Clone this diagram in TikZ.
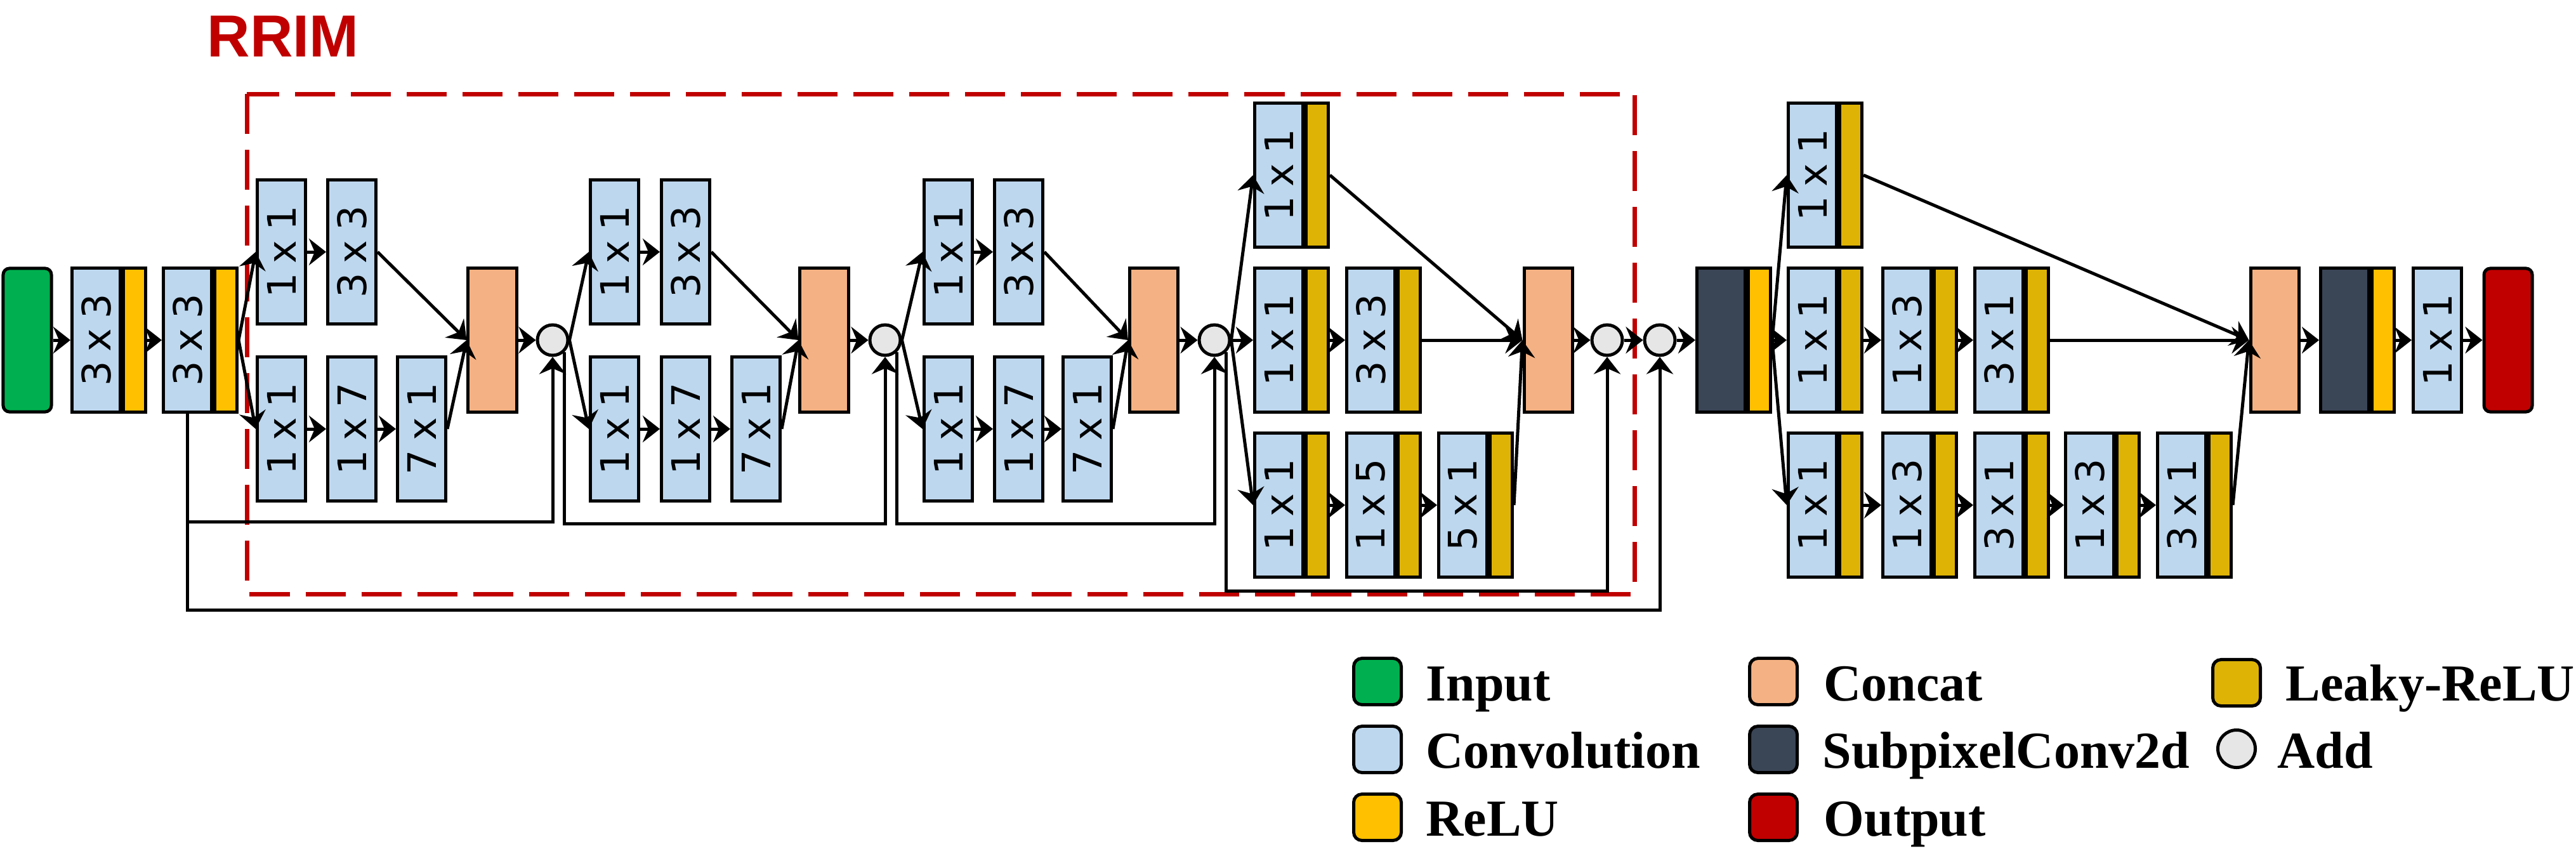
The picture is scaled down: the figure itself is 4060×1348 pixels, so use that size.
\documentclass[tikz,border=0pt]{standalone}
\usepackage{fontspec}
\usepackage{graphicx}
\usetikzlibrary{arrows.meta,calc}
\newfontfamily\boxfont{DejaVu Sans}
\newfontfamily\legfont{Liberation Serif}
\newfontfamily\rrimfont{Liberation Sans}
\definecolor{inc}{HTML}{00B050}
\definecolor{convc}{HTML}{BDD7EE}
\definecolor{reluc}{HTML}{FFC000}
\definecolor{lreluc}{HTML}{DEB306}
\definecolor{catc}{HTML}{F4B183}
\definecolor{spc}{HTML}{3A4556}
\definecolor{outc}{HTML}{C00000}
\definecolor{addc}{HTML}{E6E6E6}
\definecolor{rrimc}{HTML}{C00000}
\newcommand\kt[1]{{\boxfont\fontsize{17.6}{20}\selectfont\spaceskip=0.24em\relax\rotatebox{90}{#1}}}
\begin{document}
\begin{tikzpicture}[x=0.01cm,y=-0.01cm,
 bx/.style={draw=black, line width=0.05cm, inner sep=0pt, minimum width=0.76cm, minimum height=2.26cm},
 conv/.style={bx, fill=convc},
 relu/.style={bx, fill=reluc, minimum width=0.35cm, anchor=west},
 lrelu/.style={bx, fill=lreluc, minimum width=0.35cm, anchor=west},
 cat/.style={bx, fill=catc},
 spx/.style={bx, fill=spc},
 io/.style={bx, rounded corners=0.1cm},
 add/.style={circle, draw=black, line width=0.05cm, fill=addc, minimum size=0.48cm, inner sep=0pt},
 arr/.style={line width=0.05cm, -{Stealth[length=0.27cm,width=0.42cm,inset=0.09cm]}},
 leg/.style={anchor=base west, inner sep=0pt, font=\legfont\bfseries\fontsize{23.3}{26}\selectfont},
 sw/.style={draw=black, line width=0.05cm, rounded corners=0.13cm, minimum width=0.75cm, minimum height=0.73cm, inner sep=0pt},
]
\useasboundingbox (0,0) rectangle (4060,1348);

% RRIM frame
\draw[rrimc, line width=0.07cm, dash pattern=on 0.63cm off 0.25cm] (389,148) rectangle (2576,936);
\node[anchor=base, inner sep=0pt, text=rrimc, font=\rrimfont\bfseries\fontsize{26.6}{30}\selectfont] (rrim) at (446,89) {RRIM};

% main stem
\node[io, fill=inc] (in) at (43,536) {};
\node[conv] (A) at (151.5,536) {\kt{3 x 3}}; \node[relu] (Aa) at (A.east) {};
\node[conv] (B) at (295.5,536) {\kt{3 x 3}}; \node[relu] (Ba) at (B.east) {};

% group 1
\node[conv] (g1t1) at (443.5,397) {\kt{1 x 1}};
\node[conv] (g1t2) at (554.5,397) {\kt{3 x 3}};
\node[conv] (g1b1) at (443.5,676) {\kt{1 x 1}};
\node[conv] (g1b2) at (554.5,676) {\kt{1 x 7}};
\node[conv] (g1b3) at (664.5,676) {\kt{7 x 1}};
\node[cat] (c1) at (776,536) {};
\node[add] (p1) at (871,536) {};

% group 2
\node[conv] (g2t1) at (968.5,397) {\kt{1 x 1}};
\node[conv] (g2t2) at (1080.5,397) {\kt{3 x 3}};
\node[conv] (g2b1) at (968.5,676) {\kt{1 x 1}};
\node[conv] (g2b2) at (1080.5,676) {\kt{1 x 7}};
\node[conv] (g2b3) at (1191.5,676) {\kt{7 x 1}};
\node[cat] (c2) at (1299,536) {};
\node[add] (p2) at (1395,536) {};

% group 3
\node[conv] (g3t1) at (1494.5,397) {\kt{1 x 1}};
\node[conv] (g3t2) at (1605.5,397) {\kt{3 x 3}};
\node[conv] (g3b1) at (1494.5,676) {\kt{1 x 1}};
\node[conv] (g3b2) at (1605.5,676) {\kt{1 x 7}};
\node[conv] (g3b3) at (1713.5,676) {\kt{7 x 1}};
\node[cat] (c3) at (1818.5,536) {};
\node[add] (p3) at (1914,536) {};

% group 4
\node[conv] (g4t1) at (2015.5,276) {\kt{1 x 1}}; \node[lrelu] (g4t1a) at (g4t1.east) {};
\node[conv] (g4m1) at (2015.5,536) {\kt{1 x 1}}; \node[lrelu] (g4m1a) at (g4m1.east) {};
\node[conv] (g4m2) at (2160.5,536) {\kt{3 x 3}}; \node[lrelu] (g4m2a) at (g4m2.east) {};
\node[conv] (g4b1) at (2015.5,796) {\kt{1 x 1}}; \node[lrelu] (g4b1a) at (g4b1.east) {};
\node[conv] (g4b2) at (2160.5,796) {\kt{1 x 5}}; \node[lrelu] (g4b2a) at (g4b2.east) {};
\node[conv] (g4b3) at (2305.5,796) {\kt{5 x 1}}; \node[lrelu] (g4b3a) at (g4b3.east) {};
\node[cat] (c4) at (2440,536) {};
\node[add] (p4) at (2533,536) {};
\node[add] (p5) at (2616,536) {};

% upsampling
\node[spx] (sp1) at (2712.5,536) {}; \node[relu] (sp1a) at (sp1.east) {};

% right module
\node[conv] (rt1) at (2856.5,276) {\kt{1 x 1}}; \node[lrelu] (rt1a) at (rt1.east) {};
\node[conv] (rm1) at (2856.5,536) {\kt{1 x 1}}; \node[lrelu] (rm1a) at (rm1.east) {};
\node[conv] (rm2) at (3005.5,536) {\kt{1 x 3}}; \node[lrelu] (rm2a) at (rm2.east) {};
\node[conv] (rm3) at (3150.5,536) {\kt{3 x 1}}; \node[lrelu] (rm3a) at (rm3.east) {};
\node[conv] (rb1) at (2856.5,796) {\kt{1 x 1}}; \node[lrelu] (rb1a) at (rb1.east) {};
\node[conv] (rb2) at (3005.5,796) {\kt{1 x 3}}; \node[lrelu] (rb2a) at (rb2.east) {};
\node[conv] (rb3) at (3150.5,796) {\kt{3 x 1}}; \node[lrelu] (rb3a) at (rb3.east) {};
\node[conv] (rb4) at (3293.5,796) {\kt{1 x 3}}; \node[lrelu] (rb4a) at (rb4.east) {};
\node[conv] (rb5) at (3438.5,796) {\kt{3 x 1}}; \node[lrelu] (rb5a) at (rb5.east) {};
\node[cat] (c5) at (3585,536) {};
\node[spx] (sp2) at (3695.5,536) {}; \node[relu] (sp2a) at (sp2.east) {};
\node[conv] (f1) at (3841.5,536) {\kt{1 x 1}};
\node[io, fill=outc] (out) at (3953,536) {};

% arrows
\draw[arr] (in.east) -- (A.west);
\draw[arr] (Aa.east) -- (B.west);
\draw[arr] (Ba.east) -- (g1t1.west);
\draw[arr] (Ba.east) -- (g1b1.west);
\draw[arr] (g1t1.east) -- (g1t2.west);
\draw[arr] (g1t2.east) -- (c1.west);
\draw[arr] (g1b1.east) -- (g1b2.west);
\draw[arr] (g1b2.east) -- (g1b3.west);
\draw[arr] (g1b3.east) -- (c1.west);
\draw[arr] (c1.east) -- (p1.west);

\draw[arr] (p1.east) -- (g2t1.west);
\draw[arr] (p1.east) -- (g2b1.west);
\draw[arr] (g2t1.east) -- (g2t2.west);
\draw[arr] (g2t2.east) -- (c2.west);
\draw[arr] (g2b1.east) -- (g2b2.west);
\draw[arr] (g2b2.east) -- (g2b3.west);
\draw[arr] (g2b3.east) -- (c2.west);
\draw[arr] (c2.east) -- (p2.west);

\draw[arr] (p2.east) -- (g3t1.west);
\draw[arr] (p2.east) -- (g3b1.west);
\draw[arr] (g3t1.east) -- (g3t2.west);
\draw[arr] (g3t2.east) -- (c3.west);
\draw[arr] (g3b1.east) -- (g3b2.west);
\draw[arr] (g3b2.east) -- (g3b3.west);
\draw[arr] (g3b3.east) -- (c3.west);
\draw[arr] (c3.east) -- (p3.west);

\draw[arr] (p3.east) -- (g4t1.west);
\draw[arr] (p3.east) -- (g4m1.west);
\draw[arr] (p3.east) -- (g4b1.west);
\draw[arr] (g4t1a.east) -- (c4.west);
\draw[arr] (g4m1a.east) -- (g4m2.west);
\draw[arr] (g4m2a.east) -- (c4.west);
\draw[arr] (g4b1a.east) -- (g4b2.west);
\draw[arr] (g4b2a.east) -- (g4b3.west);
\draw[arr] (g4b3a.east) -- (c4.west);
\draw[arr] (c4.east) -- (p4.west);
\draw[arr] (p4.east) -- (p5.west);
\draw[arr] (p5.east) -- (sp1.west);

\draw[arr] (sp1a.east) -- (rt1.west);
\draw[arr] (sp1a.east) -- (rm1.west);
\draw[arr] (sp1a.east) -- (rb1.west);
\draw[arr] (rt1a.east) -- (c5.west);
\draw[arr] (rm1a.east) -- (rm2.west);
\draw[arr] (rm2a.east) -- (rm3.west);
\draw[arr] (rm3a.east) -- (c5.west);
\draw[arr] (rb1a.east) -- (rb2.west);
\draw[arr] (rb2a.east) -- (rb3.west);
\draw[arr] (rb3a.east) -- (rb4.west);
\draw[arr] (rb4a.east) -- (rb5.west);
\draw[arr] (rb5a.east) -- (c5.west);
\draw[arr] (c5.east) -- (sp2.west);
\draw[arr] (sp2a.east) -- (f1.west);
\draw[arr] (f1.east) -- (out.west);

% skip connections
\coordinate (yS1) at (0,822);
\coordinate (yS2) at (0,825);
\coordinate (yS4) at (0,931);
\coordinate (yS0) at (0,961);
\draw[arr] (B.south) |- (p1.south |- yS1) -- (p1.south);
\draw[arr] (B.south) |- (p5.south |- yS0) -- (p5.south);
\draw[arr] (p1.-45) |- (p2.south |- yS2) -- (p2.south);
\draw[arr] (p2.-45) |- (p3.south |- yS2) -- (p3.south);
\draw[arr] (p3.-45) |- (p4.south |- yS4) -- (p4.south);

% legend
\node[sw, fill=inc] (l1) at (2171,1074) {};
\node[leg] (l1t) at (2247,1104) {Input};
\node[sw, fill=convc] (l2) at (2171,1181) {};
\node[leg] (l2t) at (2247,1210) {Convolution};
\node[sw, fill=reluc] (l3) at (2171,1288) {};
\node[leg] (l3t) at (2247,1317) {ReLU};
\node[sw, fill=catc] (l4) at (2795,1074) {};
\node[leg] (l4t) at (2874,1104) {Concat};
\node[sw, fill=spc] (l5) at (2795,1181) {};
\node[leg] (l5t) at (2872,1210) {SubpixelConv2d};
\node[sw, fill=outc] (l6) at (2795,1288) {};
\node[leg] (l6t) at (2874,1317) {Output};
\node[sw, fill=lreluc] (l7) at (3525,1076) {};
\node[leg] (l7t) at (3602,1104) {Leaky-ReLU};
\node[circle, draw=black, line width=0.05cm, fill=addc, minimum size=0.59cm, inner sep=0pt] (l8) at (3525,1180) {};
\node[leg] (l8t) at (3589,1210) {Add};
\end{tikzpicture}
\end{document}
